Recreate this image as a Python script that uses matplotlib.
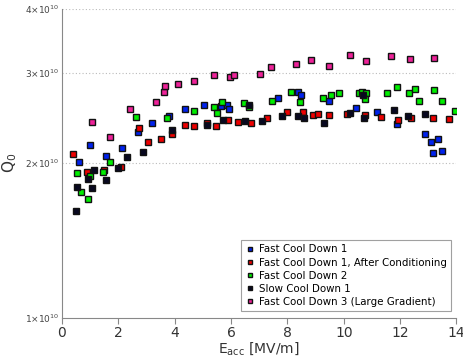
import matplotlib
matplotlib.use('Agg')
import matplotlib.pyplot as plt
import numpy as np

# Fast Cool Down 1
fcd1_x = [0.62, 0.98, 1.55, 2.14, 2.68, 3.19, 3.78, 4.38, 5.05, 5.66, 5.87, 5.94,
          7.65, 8.37, 8.48, 9.49, 10.45, 11.18, 11.88, 12.89, 13.11, 13.35, 13.18, 13.50]
fcd1_q = [2.016, 2.168, 2.069, 2.139, 2.297, 2.397, 2.477, 2.556, 2.599, 2.584, 2.599, 2.549,
          2.685, 2.755, 2.715, 2.642, 2.561, 2.515, 2.386, 2.277, 2.198, 2.228, 2.097, 2.110]

# Fast Cool Down 1, After Conditioning
fcd1c_x = [0.38, 0.89, 1.50, 2.08, 2.75, 3.07, 3.50, 3.90, 4.37, 4.68, 5.16, 5.48, 5.90,
           6.26, 6.69, 7.29, 7.99, 8.57, 8.92, 9.10, 9.49, 10.13, 10.77, 11.33, 11.93,
           12.40, 13.17, 13.73]
fcd1c_q = [2.085, 1.926, 1.938, 1.967, 2.347, 2.196, 2.228, 2.285, 2.375, 2.368, 2.397, 2.365, 2.429,
           2.411, 2.397, 2.448, 2.515, 2.518, 2.485, 2.499, 2.488, 2.496, 2.488, 2.459, 2.429,
           2.448, 2.448, 2.440]

# Fast Cool Down 2
fcd2_x = [0.55, 0.67, 0.91, 0.98, 1.45, 1.71, 2.61, 3.73, 4.69, 5.40, 5.51, 5.68, 6.46, 6.62,
          7.47, 8.12, 8.43, 9.26, 9.56, 9.82, 10.55, 10.65, 10.80, 10.77, 11.52, 11.89, 12.30,
          12.54, 12.66, 13.19, 13.50, 13.96]
fcd2_q = [1.915, 1.756, 1.703, 1.887, 1.926, 2.009, 2.466, 2.455, 2.535, 2.576, 2.507, 2.630, 2.619, 2.576,
          2.642, 2.759, 2.630, 2.685, 2.719, 2.747, 2.744, 2.750, 2.744, 2.666, 2.747, 2.818, 2.747,
          2.789, 2.650, 2.780, 2.650, 2.526]

# Slow Cool Down 1
scd1_x = [0.51, 0.52, 0.91, 1.07, 1.12, 1.55, 1.97, 2.30, 2.86, 3.90, 5.13, 5.73, 6.51, 6.63,
          7.09, 7.80, 8.39, 8.60, 9.29, 10.21, 10.70, 10.72, 11.79, 12.27, 12.88]
scd1_q = [1.614, 1.796, 1.866, 1.788, 1.938, 1.855, 1.956, 2.057, 2.106, 2.323, 2.375, 2.429, 2.418, 2.596,
          2.418, 2.477, 2.477, 2.448, 2.397, 2.507, 2.722, 2.448, 2.544, 2.477, 2.499]

# Fast Cool Down 3 (Large Gradient)
fcd3_x = [1.05, 1.70, 2.43, 3.35, 3.62, 3.67, 4.13, 4.67, 5.40, 5.96, 6.11, 7.01, 7.41, 8.31,
          8.82, 9.49, 10.23, 10.79, 11.67, 12.34, 13.19]
fcd3_q = [2.411, 2.247, 2.556, 2.630, 2.755, 2.830, 2.852, 2.891, 2.970, 2.947, 2.970, 2.991, 3.083, 3.120,
          3.181, 3.100, 3.253, 3.166, 3.234, 3.195, 3.214]

series = [
    (fcd1_x, fcd1_q, '#0022ee', 'Fast Cool Down 1'),
    (fcd1c_x, fcd1c_q, '#ee0000', 'Fast Cool Down 1, After Conditioning'),
    (fcd2_x, fcd2_q, '#00ee00', 'Fast Cool Down 2'),
    (scd1_x, scd1_q, '#080820', 'Slow Cool Down 1'),
    (fcd3_x, fcd3_q, '#ee2299', 'Fast Cool Down 3 (Large Gradient)'),
]

fig = plt.figure(figsize=(4.64, 3.64), dpi=100)
ax = fig.add_axes([0.1336, 0.1275, 0.8502, 0.8478])

for x, q, c, lab in series:
    ax.plot(x, np.array(q) * 1e10, linestyle='none', marker='s', markersize=4.3,
            markerfacecolor=c, markeredgecolor='#111111', markeredgewidth=1.0, label=lab)

ax.set_yscale('log')
ax.set_xlim(0, 14)
ax.set_ylim(1e10, 4e10)

yt = [1e10, 2e10, 3e10, 4e10]
ax.set_yticks(yt)
ax.set_yticklabels([r'$%d{\times}10^{\mathregular{10}}$' % (v / 1e10) for v in yt])
ax.yaxis.set_minor_locator(matplotlib.ticker.NullLocator())
ax.set_xticks([0, 2, 4, 6, 8, 10, 12, 14])

ax.tick_params(axis='y', length=0, labelsize=6.5, labelcolor='#444444', pad=2)
ax.tick_params(axis='x', length=4, direction='out', color='#888888', labelsize=10,
               labelcolor='#333333', pad=2)

for v in yt[1:]:
    ax.axhline(v, color='#bbbbbb', linestyle=(0, (1, 2)), linewidth=0.8, zorder=0)

for s in ['top', 'right']:
    ax.spines[s].set_visible(False)
for s in ['left', 'bottom']:
    ax.spines[s].set_color('#888888')

ax.set_xlabel(r'E$_{\mathregular{acc}}$ [MV/m]', fontsize=10, color='#333333', labelpad=0)
ax.set_ylabel(r'Q$_{\mathregular{0}}$', fontsize=11, color='#333333')
ax.yaxis.set_label_coords(-0.11, 0.5)

leg = ax.legend(loc='lower right', fontsize=7.4, frameon=True, fancybox=False,
                markerscale=0.75, handletextpad=0.4, borderpad=0.4, labelspacing=0.3,
                handlelength=1.0, bbox_to_anchor=(1.0, 0.005))
leg.get_frame().set_edgecolor('#888888')
leg.get_frame().set_linewidth(0.8)

fig.savefig('out.png', dpi=100)
